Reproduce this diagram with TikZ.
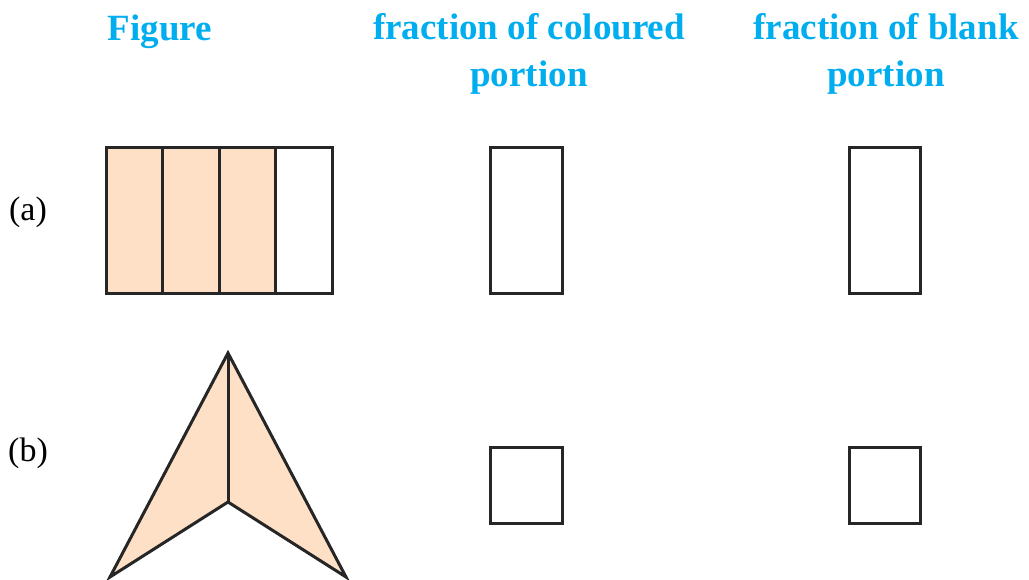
\documentclass[tikz,border=0pt]{standalone}
\usepackage{fontspec}
\setmainfont{Liberation Serif}
\usetikzlibrary{positioning}
\definecolor{headcyan}{RGB}{0,174,239}
\definecolor{partpeach}{RGB}{253,224,198}

\begin{document}
\begin{tikzpicture}[x=0.5pt,y=-0.5pt,
  headtext/.style={text=headcyan, font=\fontsize{18.5}{23.5}\selectfont\bfseries, align=center, inner sep=0pt},
  rowtext/.style={font=\fontsize{17}{20}\selectfont, inner sep=0pt},
  edge/.style={black!85, line width=1.5pt},
  answerbox/.style={edge, fill=white}]

\useasboundingbox (0,0) rectangle (1029,579);

% ── Column headings ─────────────────────────────────────────────────────────
\node[headtext, anchor=base] (hfig) at (160,40) {Figure};
\node[headtext, anchor=north] (hcol) at (529,13) {fraction of coloured\\portion};
\node[headtext, anchor=north] (hblank) at (886,13) {fraction of blank\\portion};

% ── Row labels ──────────────────────────────────────────────────────────────
\node[rowtext] (rowa) at (28,212) {(a)};
\node[rowtext] (rowb) at (28,453) {(b)};

% ════════════════════════════════════════════════════════════════════════════
% (a) rectangle in four strips, three coloured
% ════════════════════════════════════════════════════════════════════════════
\pgfmathsetmacro{\stripw}{56.5}
\foreach \i in {0,1,2}{
  \fill[partpeach] ({106+\i*\stripw},147) rectangle ({106+(\i+1)*\stripw},293);
}
\draw[edge] (106,147) rectangle (332,293);
\foreach \i in {1,2,3}{
  \draw[edge] ({106+\i*\stripw},147) -- ({106+\i*\stripw},293);
}

% answer boxes
\draw[answerbox] (490,147) rectangle (562,293);
\draw[answerbox] (849,147) rectangle (920,293);

% ════════════════════════════════════════════════════════════════════════════
% (b) arrowhead in two halves, both coloured
% ════════════════════════════════════════════════════════════════════════════
\coordinate (apex) at (228,353);
\coordinate (inner) at (228,502);
\coordinate (bl) at (110,577);
\coordinate (br) at (346,577);

\fill[partpeach] (apex) -- (bl) -- (inner) -- (br) -- cycle;
\draw[edge, line join=miter] (apex) -- (bl) -- (inner) -- (br) -- cycle;
\draw[edge] (apex) -- (inner);

% answer boxes
\draw[answerbox] (490,447) rectangle (562,523);
\draw[answerbox] (849,447) rectangle (920,523);

\end{tikzpicture}
\end{document}
